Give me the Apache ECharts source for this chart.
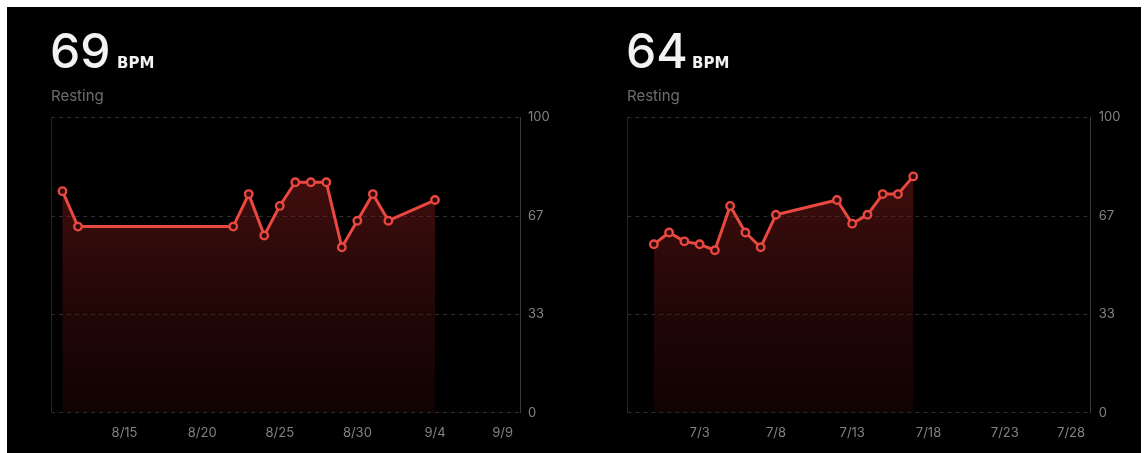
<!DOCTYPE html>
<html>
<head>
<meta charset="utf-8">
<title>Resting heart rate</title>
<script src="https://cdn.jsdelivr.net/npm/echarts@6/dist/echarts.min.js"></script>
<style>
  html, body { margin: 0; padding: 0; background: #ffffff; width: 1147px; height: 453px; overflow: hidden; }
  #panel { position: absolute; left: 7px; top: 7px; width: 1134px; height: 446px; background: #000000; }
  #chart { position: absolute; left: 0; top: 0; width: 1147px; height: 453px; }
</style>
</head>
<body>
<div id="panel"></div>
<div id="chart"></div>
<script>
// Resting heart rate, two periods (beats per minute per day)
const leftDates  = ['8/11', '8/12', '8/22', '8/23', '8/24', '8/25', '8/26', '8/27', '8/28', '8/29', '8/30', '8/31', '9/1', '9/4'];
const leftValues = [75, 63, 63, 74, 60, 70, 78, 78, 78, 56, 65, 74, 65, 72];
const leftTicks  = ['8/15', '8/20', '8/25', '8/30', '9/4', '9/9'];
const leftResting = '69';

const rightDates  = ['6/30', '7/1', '7/2', '7/3', '7/4', '7/5', '7/6', '7/7', '7/8', '7/12', '7/13', '7/14', '7/15', '7/16', '7/17'];
const rightValues = [57, 61, 58, 57, 55, 70, 61, 56, 67, 72, 64, 67, 74, 74, 80];
const rightTicks  = ['7/3', '7/8', '7/13', '7/18', '7/23', '7/28'];
const rightResting = '64';

const unitLabel = 'BPM';
const subLabel = 'Resting';

// Day number helpers: "m/d" <-> days since epoch
function dayNum(s) {
  const p = s.split('/').map(Number);
  return Date.UTC(2023, p[0] - 1, p[1]) / 864e5;
}
function dayLabel(n) {
  const d = new Date(Math.round(n) * 864e5);
  return (d.getUTCMonth() + 1) + '/' + d.getUTCDate();
}

const RED = '#e8483f';
const LABEL_GREY = '#828282';
const GRID_LINE = '#2e2e2e';

function seriesData(dates, values) {
  return dates.map((d, i) => [dayNum(d), values[i]]);
}

function xAxisFor(gridIndex, ticks, min, max) {
  const tickNums = ticks.map(dayNum);
  const lastTick = tickNums[tickNums.length - 1];
  return {
    type: 'value',
    gridIndex: gridIndex,
    min: min,
    max: max,
    axisLine: { show: false },
    axisTick: { show: false },
    splitLine: { show: false },
    axisLabel: {
      customValues: tickNums,
      color: LABEL_GREY,
      fontSize: 13,
      fontFamily: 'Inter, "Noto Sans", sans-serif',
      margin: 14,
      formatter: function (v) {
        const t = dayLabel(v);
        return Math.abs(v - lastTick) < 1e-6 ? '{last|' + t + '}' : t;
      },
      rich: {
        last: {
          color: LABEL_GREY,
          fontSize: 13,
          fontFamily: 'Inter, "Noto Sans", sans-serif',
          padding: [0, 20, 0, 0]
        }
      }
    }
  };
}

function valueAxisFor(gridIndex) {
  return {
    type: 'value',
    gridIndex: gridIndex,
    position: 'right',
    min: 0,
    max: 100,
    interval: 100 / 3,
    axisLine: { show: true, lineStyle: { color: '#3a3a3a', width: 1 } },
    axisTick: { show: false },
    splitLine: { show: true, lineStyle: { color: GRID_LINE, type: [4, 4], width: 1 } },
    axisLabel: {
      color: LABEL_GREY,
      fontSize: 13,
      fontFamily: 'Inter, "Noto Sans", sans-serif',
      margin: 8,
      formatter: function (v) { return String(Math.round(v)); }
    }
  };
}

function edgeAxisFor(gridIndex) {
  return {
    type: 'value',
    gridIndex: gridIndex,
    position: 'left',
    min: 0,
    max: 100,
    axisLine: { show: true, lineStyle: { color: '#262626', width: 1 } },
    axisTick: { show: false },
    axisLabel: { show: false },
    splitLine: { show: false }
  };
}

function lineSeries(idx, data) {
  return {
    type: 'line',
    xAxisIndex: idx,
    yAxisIndex: idx * 2,
    data: data,
    symbol: 'circle',
    symbolSize: 7.5,
    showSymbol: true,
    lineStyle: { color: RED, width: 3 },
    itemStyle: { color: '#300a0a', borderColor: RED, borderWidth: 2.4 },
    areaStyle: {
      color: {
        type: 'linear', x: 0, y: 0, x2: 0, y2: 1,
        colorStops: [
          { offset: 0, color: 'rgba(140, 30, 30, 0.66)' },
          { offset: 1, color: 'rgba(75, 12, 12, 0.32)' }
        ]
      }
    },
    z: 3
  };
}

function headerText(x, big, unitX) {
  return [
    {
      type: 'text', left: x, top: 30,
      style: { text: big, fill: '#f2f2f2', font: '500 48px Inter, "Noto Sans", sans-serif' }
    },
    {
      type: 'text', left: unitX, top: 57,
      style: { text: unitLabel, fill: '#f2f2f2', font: '700 15px "DejaVu Sans", Inter, sans-serif' }
    },
    {
      type: 'text', left: x + 1, top: 89,
      style: { text: subLabel, fill: '#6e6e6e', font: '400 15px Inter, "Noto Sans", sans-serif' }
    }
  ];
}

const chart = echarts.init(document.getElementById('chart'), null, { renderer: 'canvas' });

chart.setOption({
  backgroundColor: 'transparent',
  animation: false,
  graphic: headerText(50, leftResting, 117).concat(headerText(626, rightResting, 692)),
  grid: [
    { left: 51, top: 117.3, width: 469, height: 295.4, containLabel: false },
    { left: 627.3, top: 117.3, width: 463.4, height: 295.4, containLabel: false }
  ],
  xAxis: [
    xAxisFor(0, leftTicks, dayNum('8/11') - 0.74, dayNum('9/9') + 0.48),
    xAxisFor(1, rightTicks, dayNum('6/30') - 1.74, dayNum('7/28') + 0.63)
  ],
  yAxis: [
    valueAxisFor(0), edgeAxisFor(0),
    valueAxisFor(1), edgeAxisFor(1)
  ],
  series: [
    lineSeries(0, seriesData(leftDates, leftValues)),
    lineSeries(1, seriesData(rightDates, rightValues))
  ]
});
</script>
</body>
</html>
